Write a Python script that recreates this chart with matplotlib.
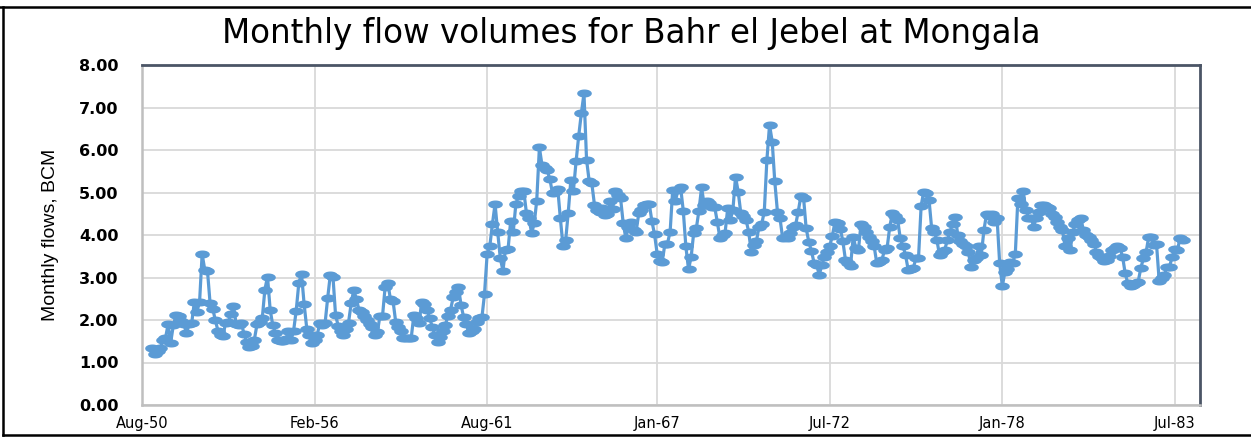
import numpy as np
import pandas as pd
import matplotlib
matplotlib.use("Agg")
import matplotlib.pyplot as plt
import matplotlib.dates as mdates
from matplotlib.path import Path
from matplotlib.lines import Line2D

# monthly flows (BCM), Dec-50 .. Oct-83
flows = [
    1.35,
    1.20, 1.28, 1.34, 1.52, 1.57, 1.90, 1.47, 1.88, 2.12, 2.10, 1.98, 1.90,  # 1951
    1.69, 1.90, 1.92, 2.42, 2.20, 2.42, 3.55, 3.18, 3.16, 2.41, 2.27, 2.00,  # 1952
    1.75, 1.65, 1.63, 1.94, 1.95, 2.14, 2.34, 1.90, 1.88, 1.92, 1.67, 1.49,  # 1953
    1.37, 1.40, 1.54, 1.90, 1.95, 2.04, 2.71, 3.02, 2.24, 1.88, 1.69, 1.53,  # 1954
    1.50, 1.50, 1.55, 1.73, 1.52, 1.75, 2.22, 2.88, 3.08, 2.38, 1.80, 1.65,  # 1955
    1.45, 1.52, 1.65, 1.92, 1.88, 1.92, 2.51, 3.06, 3.02, 2.12, 1.86, 1.75,  # 1956
    1.65, 1.80, 1.94, 2.39, 2.71, 2.49, 2.24, 2.18, 2.09, 2.00, 1.90, 1.84,  # 1957
    1.65, 1.72, 2.09, 2.10, 2.77, 2.88, 2.50, 2.45, 1.96, 1.84, 1.75, 1.57,  # 1958
    1.57, 1.57, 1.58, 2.12, 2.05, 1.94, 2.43, 2.38, 2.24, 2.04, 1.84, 1.65,  # 1959
    1.49, 1.60, 1.75, 1.88, 2.10, 2.24, 2.53, 2.67, 2.77, 2.35, 2.06, 1.90,  # 1960
    1.70, 1.75, 1.80, 1.95, 2.04, 2.06, 2.61, 3.56, 3.74, 4.26, 4.73, 4.08,  # 1961
    3.45, 3.16, 3.65, 3.66, 4.32, 4.08, 4.73, 4.92, 5.04, 5.04, 4.52, 4.39,  # 1962
    4.04, 4.29, 4.81, 6.06, 5.65, 5.58, 5.52, 5.31, 4.98, 5.02, 5.08, 4.39,  # 1963
    3.74, 3.88, 4.51, 5.29, 5.04, 5.73, 6.32, 6.86, 7.33, 5.77, 5.26, 5.22,  # 1964
    4.71, 4.59, 4.55, 4.63, 4.47, 4.50, 4.81, 4.62, 5.04, 4.95, 4.86, 4.29,  # 1965
    3.92, 4.20, 4.30, 4.12, 4.08, 4.51, 4.60, 4.71, 4.73, 4.73, 4.32, 4.02,  # 1966
    3.56, 3.40, 3.37, 3.79, 3.80, 4.08, 5.07, 4.81, 5.05, 5.12, 4.57, 3.73,  # 1967
    3.19, 3.49, 4.05, 4.16, 4.57, 5.12, 4.71, 4.80, 4.75, 4.65, 4.65, 4.31,  # 1968
    3.92, 4.00, 4.04, 4.63, 4.35, 4.60, 5.37, 5.02, 4.51, 4.45, 4.35, 4.08,  # 1969
    3.59, 3.76, 3.85, 4.20, 4.25, 4.55, 5.76, 6.59, 6.20, 5.26, 4.55, 4.39,  # 1970
    3.92, 3.95, 3.94, 4.05, 4.20, 4.24, 4.55, 4.92, 4.88, 4.16, 3.84, 3.63,  # 1971
    3.35, 3.30, 3.06, 3.29, 3.49, 3.60, 3.73, 3.98, 4.31, 4.28, 4.15, 3.86,  # 1972
    3.41, 3.35, 3.27, 3.96, 3.70, 3.65, 4.27, 4.20, 4.08, 3.96, 3.85, 3.73,  # 1973
    3.33, 3.36, 3.41, 3.65, 3.70, 4.20, 4.51, 4.45, 4.35, 3.92, 3.74, 3.53,  # 1974
    3.18, 3.20, 3.22, 3.45, 3.45, 4.69, 5.02, 5.00, 4.82, 4.16, 4.08, 3.88,  # 1975
    3.53, 3.61, 3.65, 3.88, 4.08, 4.25, 4.43, 4.00, 3.85, 3.80, 3.73, 3.61,  # 1976
    3.25, 3.41, 3.45, 3.73, 3.53, 4.12, 4.49, 4.45, 4.49, 4.31, 4.39, 3.33,  # 1977
    2.80, 3.14, 3.20, 3.37, 3.35, 3.55, 4.86, 4.72, 5.04, 4.59, 4.41, 4.40,  # 1978
    4.20, 4.41, 4.55, 4.71, 4.70, 4.67, 4.63, 4.50, 4.43, 4.31, 4.20, 4.12,  # 1979
    3.73, 3.92, 3.65, 4.08, 4.27, 4.35, 4.41, 4.12, 4.00, 3.95, 3.88, 3.80,  # 1980
    3.61, 3.50, 3.45, 3.40, 3.41, 3.50, 3.65, 3.70, 3.73, 3.69, 3.49, 3.10,  # 1981
    2.86, 2.80, 2.82, 2.86, 2.90, 3.22, 3.45, 3.59, 3.96, 3.96, 3.76, 3.78,  # 1982
    2.92, 2.98, 3.05, 3.25, 3.25, 3.49, 3.67, 3.65, 3.92, 3.88,              # 1983
]
first_month = "1950-12-01"

tick_dates = ["1950-08-01", "1956-02-01", "1961-08-01", "1967-01-01",
              "1972-07-01", "1978-01-01", "1983-07-01"]
tick_labels = ["Aug-50", "Feb-56", "Aug-61", "Jan-67", "Jul-72", "Jan-78", "Jul-83"]
y_ticks = [0, 1, 2, 3, 4, 5, 6, 7, 8]

title = "Monthly flow volumes for Bahr el Jebel at Mongala"
y_label = "Monthly flows, BCM"

dates = pd.date_range(first_month, periods=len(flows), freq="MS")

# ellipse marker (the original picture is stretched sideways)
t = np.linspace(0, 2 * np.pi, 60)
ellipse = Path(np.column_stack([np.cos(t), 0.5 * np.sin(t)]), closed=True)

blue = "#5b9bd5"
grid_c = "#d9d9d9"

fig = plt.figure(figsize=(12.51, 4.38), dpi=100)
ax = fig.add_axes([142 / 1251, 1 - 405 / 438, (1200 - 142) / 1251, (405 - 65) / 438])

ax.plot(dates, flows, color=blue, linewidth=2.3, marker=ellipse,
        markersize=9.5, markerfacecolor=blue, markeredgecolor=blue, zorder=3)

ax.set_ylim(0, 8)
ax.set_yticks(y_ticks)
ax.set_yticklabels([f"{v:.2f}" for v in y_ticks], fontsize=11.5, fontweight="bold")

tick_pos = mdates.date2num(pd.to_datetime(tick_dates))
ax.set_xticks(tick_pos)
ax.set_xticklabels(tick_labels, fontsize=10.5)
ax.set_xlim(tick_pos[0], mdates.date2num(pd.Timestamp("1984-04-20")))

ax.grid(True, color=grid_c, linewidth=1.3, zorder=0)
ax.set_axisbelow(True)
ax.tick_params(axis="x", length=0, pad=8)
ax.tick_params(axis="y", length=0, pad=17)

for side in ["left", "bottom"]:
    ax.spines[side].set_color("#bfbfbf")
    ax.spines[side].set_linewidth(1.8)
for side in ["top", "right"]:
    ax.spines[side].set_color("#4b5566")
    ax.spines[side].set_linewidth(2)

ax.set_ylabel(y_label, fontsize=14, family="Liberation Sans", labelpad=14)

fig.text(0.505, 0.924, title, ha="center", va="center", fontsize=23.5)

# outer border of the chart area
for xs, ys in [([3, 3], [7, 435]), ([3, 1251], [435, 435]), ([0, 1251], [7, 7])]:
    fig.add_artist(Line2D([x / 1251 for x in xs], [1 - y / 438 for y in ys],
                          color="black", linewidth=1.8))

fig.savefig("out.png", dpi=100, facecolor="white")
